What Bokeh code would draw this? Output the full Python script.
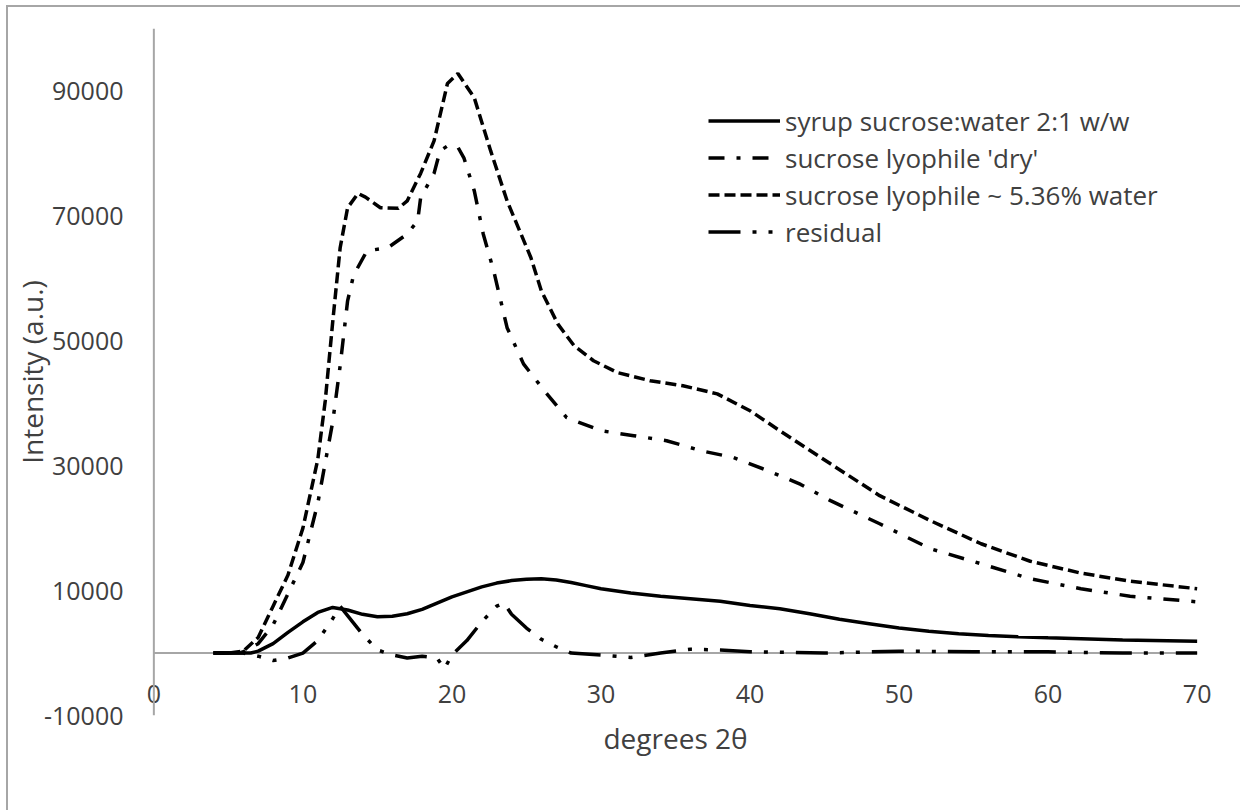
from bokeh.plotting import figure
from bokeh.models import LinearAxis, FixedTicker, Legend, LegendItem, Range1d, Span
from bokeh.embed import file_html
from bokeh.resources import INLINE

# ---------------- data ----------------
x_ticks = [0, 10, 20, 30, 40, 50, 60, 70]
y_ticks = [-10000, 10000, 30000, 50000, 70000, 90000]

syrup_x = [4, 5, 6, 6.5, 7, 8, 9, 10, 11, 12, 13, 14, 15, 16, 17, 18, 19, 20, 21, 22,
           23, 24, 25, 26, 27, 28, 29, 30, 32, 34, 36, 38, 40, 42, 44, 46, 48, 50, 52, 54,
           56, 58, 60, 65, 70]
syrup_y = [0, 0, 0, 0, 300, 1500, 3300, 5000, 6500, 7300, 6900, 6200, 5800, 5900, 6300, 7000, 8000, 9000, 9800, 10600,
           11200, 11600, 11800, 11900, 11700, 11300, 10800, 10300, 9600, 9100, 8700, 8300, 7600, 7100, 6300, 5400, 4700, 4000, 3500, 3100,
           2800, 2600, 2450, 2100, 1900]

dry_x = [4, 5, 6, 7, 8, 9, 10, 11, 12, 12.5, 13, 13.4, 14.3, 15.7, 17, 17.7, 17.9, 18.8, 19.2, 19.7,
         20.4, 20.8, 21.5, 22.1, 22.8, 23.7, 24.8, 26.2, 27.7, 30, 32.2, 34.4, 36.7, 38.9, 41.2, 43.4, 45.4, 48.7, 52.1, 55.5,
         58.8, 62.2, 65.5, 70]
dry_y = [0, 0, 200, 1500, 4500, 9500, 14500, 24000, 37000, 46000, 56400, 60500, 64400, 64900, 67100, 69200, 72900, 76800, 80400, 81200,
         81000, 79300, 74000, 67100, 61200, 52100, 46300, 42000, 37700, 35600, 34800, 34000, 32400, 31300, 29200, 27000, 24400, 20700, 16700, 14300,
         11900, 10300, 9100, 8200]

wet_x = [4, 5, 6, 7, 8, 9, 10, 11, 11.5, 12, 12.5, 13, 13.7, 14.2, 15.2, 16.4, 17, 17.9, 18.8, 19.7,
         20.4, 21.5, 22.6, 23.7, 25.3, 26, 27.1, 28.2, 29.5, 31.1, 33.3, 35.5, 37.8, 40, 42, 45.4, 48.7, 52.1, 55.5, 58.8,
         62.2, 65.5, 70]
wet_y = [0, 0, 300, 2500, 7500, 12500, 20000, 31000, 40400, 53000, 64900, 71300, 73600, 73000, 71300, 71200, 72400, 76800, 82000, 91200,
         92800, 88900, 80400, 72400, 63300, 58000, 52700, 49200, 46800, 44900, 43600, 42800, 41500, 38800, 35600, 30300, 25200, 21200, 17500, 14700,
         12800, 11500, 10300]

resid_x = [4, 6, 7, 8, 9, 10, 11, 12, 12.5, 13, 14, 15, 16, 17, 18, 19, 19.5, 20, 21, 22,
           23, 23.5, 24, 25, 26, 27, 28, 30, 32, 34, 36, 38, 40, 45, 50, 55, 60, 65, 70]
resid_y = [0, 0, -500, -1200, -800, 0, 2000, 5500, 7500, 6000, 3000, 500, -300, -800, -500, -800, -2500, -300, 2000, 5000,
           7500, 8000, 6200, 4000, 2200, 1000, 0, -300, -700, 0, 600, 500, 200, 0, 300, 200, 200, 0, 0]

series_labels = ["syrup sucrose:water 2:1 w/w", "sucrose lyophile 'dry'",
                 "sucrose lyophile ~ 5.36% water", "residual"]

# ---------------- layout ----------------
FONT = "Open Sans"
TXT = "#404040"
AX = "#a6a6a6"

p = figure(width=1234, height=805, output_backend="svg", toolbar_location=None,
           x_range=Range1d(-1.5, 71.5), y_range=Range1d(-10000, 100000),
           x_axis_location=None, y_axis_location="left",
           min_border_left=123, min_border_right=23, min_border_top=21, min_border_bottom=97)
p.styles = {"margin-left": "6px", "margin-top": "5px",
            "border-left": "2px solid #a6a6a6", "border-top": "2px solid #a6a6a6"}
p.grid.visible = False
p.outline_line_color = None
p.background_fill_color = "white"
p.border_fill_color = "white"

ya = p.yaxis[0]
ya.ticker = FixedTicker(ticks=y_ticks)
ya.major_label_overrides = {v: str(v) for v in y_ticks}
ya.axis_line_color = None
ya.major_tick_line_color = None
ya.minor_tick_line_color = None
ya.major_label_standoff = 2
ya.major_label_text_font = FONT
ya.major_label_text_font_size = "25px"
ya.major_label_text_color = TXT
ya.axis_label = "Intensity (a.u.)"
ya.axis_label_text_font = FONT
ya.axis_label_text_font_size = "28px"
ya.axis_label_text_font_style = "normal"
ya.axis_label_text_color = TXT
ya.axis_label_standoff = -10

# vertical axis line at x = 0
p.add_layout(Span(location=x_ticks[0], dimension="height", line_color=AX, line_width=2))

title_axis = LinearAxis(ticker=FixedTicker(ticks=[]), axis_label="degrees 2θ",
                        axis_line_color=None, major_tick_line_color=None, minor_tick_line_color=None,
                        axis_label_text_font=FONT, axis_label_text_font_size="28px",
                        axis_label_text_font_style="normal", axis_label_text_color=TXT,
                        axis_label_standoff=3)
p.add_layout(title_axis, "below")

tick_axis = LinearAxis(fixed_location=0, ticker=FixedTicker(ticks=x_ticks),
                       axis_line_color=None,
                       major_tick_line_color=None, minor_tick_line_color=None,
                       major_label_standoff=26, major_label_text_font=FONT,
                       major_label_text_font_size="25px", major_label_text_color=TXT)
p.add_layout(tick_axis, "below")

# horizontal axis line at y = 0, from x = 0 to x = 70
p.segment(x0=[x_ticks[0]], y0=[0], x1=[x_ticks[-1]], y1=[0], line_color=AX, line_width=2)

r1 = p.line(syrup_x, syrup_y, line_color="black", line_width=3.5)
r2 = p.line(dry_x, dry_y, line_color="black", line_width=3.5, line_dash="16 12 4 12")
r3 = p.line(wet_x, wet_y, line_color="black", line_width=3.5, line_dash="11 5")
r4 = p.line(resid_x, resid_y, line_color="black", line_width=3.5, line_dash="32 12 4 12 4 12")

legend = Legend(items=[LegendItem(label=series_labels[0], renderers=[r1]),
                       LegendItem(label=series_labels[1], renderers=[r2]),
                       LegendItem(label=series_labels[2], renderers=[r3]),
                       LegendItem(label=series_labels[3], renderers=[r4])],
                location=(577, 465), padding=0, margin=0, spacing=0,
                glyph_width=72, glyph_height=37, label_height=37, label_standoff=5,
                label_text_font=FONT, label_text_font_size="26px", label_text_color=TXT,
                border_line_color=None, background_fill_alpha=0)
p.add_layout(legend, "center")

open("out.html", "w").write(file_html(p, INLINE))
